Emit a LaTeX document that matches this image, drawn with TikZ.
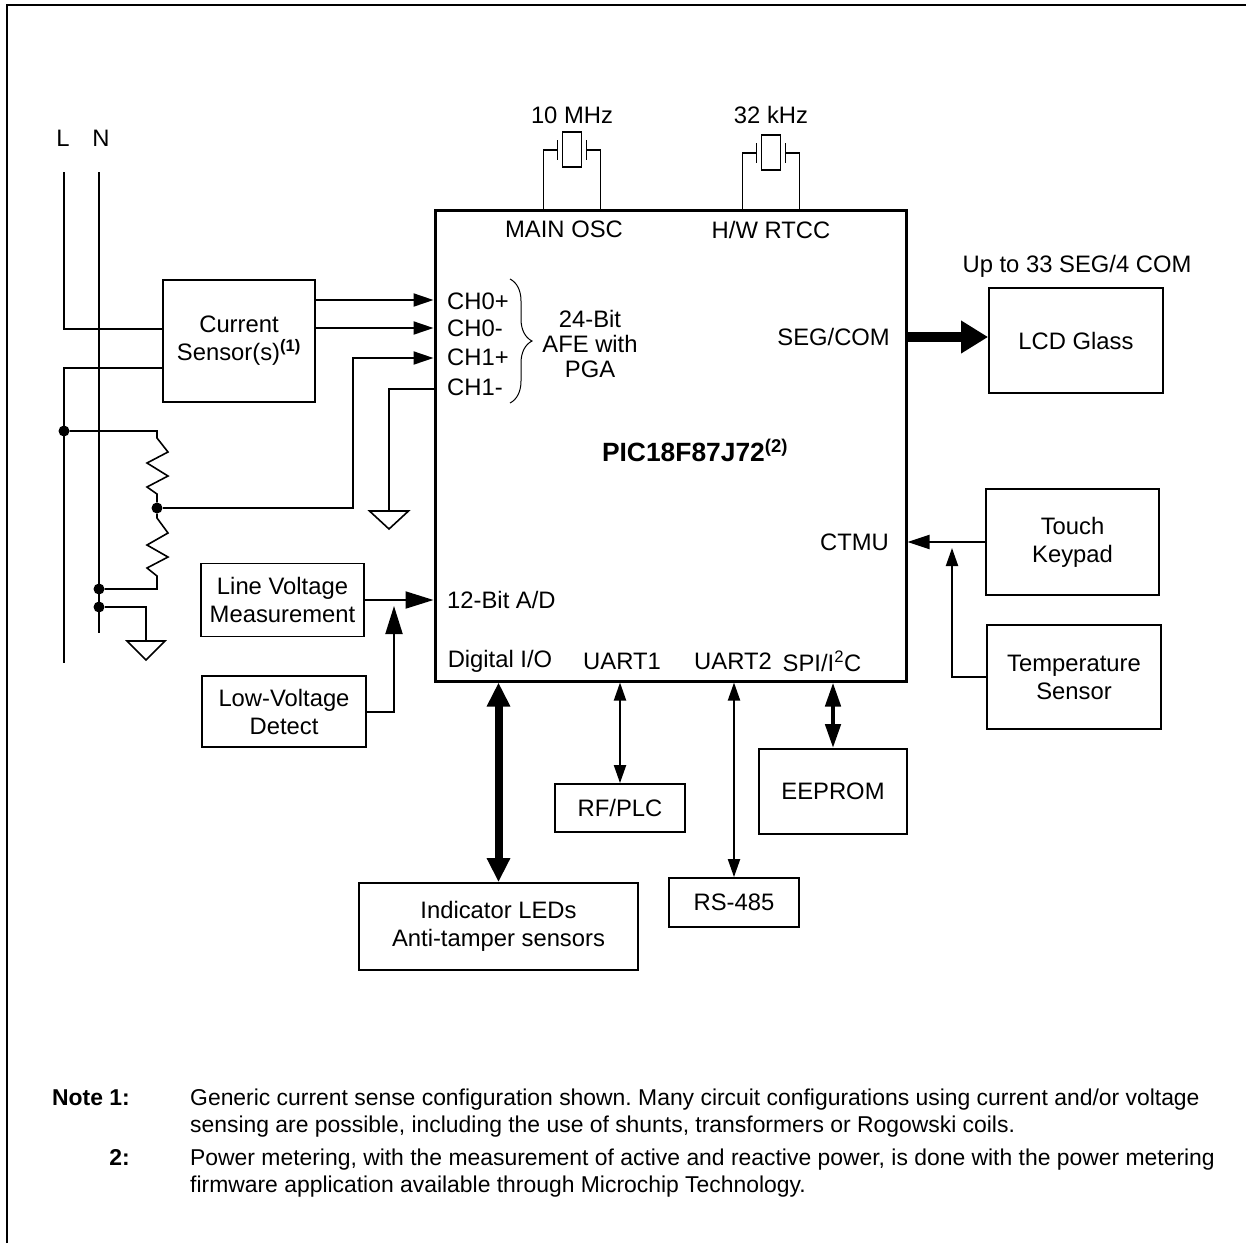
\documentclass[tikz,border=0pt]{standalone}
\usepackage{fontspec}
\setmainfont{Liberation Sans}
\usetikzlibrary{arrows.meta,positioning,calc,decorations.pathreplacing}
\frenchspacing

\begin{document}
\begin{tikzpicture}[
    x=1pt, y=-1pt,
    every node/.style={font=\fontsize{23.8}{28}\selectfont, inner sep=0pt},
    block/.style={draw, line width=1.8pt, align=center},
    notehead/.style={font=\bfseries\fontsize{22.9}{27}\selectfont},
    notetext/.style={font=\fontsize{22.9}{27}\selectfont},
    wire/.style={line width=2pt},
    thin wire/.style={line width=1.6pt},
    mains/.style={line width=2.8pt},
    junction/.style={circle, fill, minimum size=11pt},
    inarrow/.style={wire, -{Triangle[length=20pt, width=13pt]}},
    bigin/.style={wire, -{Triangle[length=28pt, width=17pt]}},
    midin/.style={wire, -{Triangle[length=22pt, width=14pt]}},
    smallin/.style={wire, -{Triangle[length=18pt, width=12pt]}},
    bus/.style={wire, {Triangle[length=18pt, width=12pt]}-{Triangle[length=18pt, width=12pt]}}
]
    \useasboundingbox (0,0) rectangle (1246,1243);
    % Frame
    \draw[line width=2.2pt] (7,1243) -- (7,5) -- (1246,5);

    % Blocks
    \node[block, line width=3pt, minimum width=471pt, minimum height=471pt] (chip) at (670.5,445.5) {};
    \node[block, minimum width=152pt, minimum height=122pt] (cs) at (239,341) {Current\\Sensor(s)\textsuperscript{\textbf{(1)}}};
    \node[block, minimum width=163pt, minimum height=73pt] (lvm) at (282.5,600) {Line Voltage\\Measurement};
    \node[block, minimum width=164pt, minimum height=71pt] (lvd) at (284,711.5) {Low-Voltage\\Detect};
    \node[block, minimum width=174pt, minimum height=105pt] (lcd) at (1076,340.5) {LCD Glass};
    \node[block, minimum width=173pt, minimum height=106pt] (touch) at (1072.5,542) {Touch\\Keypad};
    \node[block, minimum width=174pt, minimum height=104pt] (temp) at (1074,677) {Temperature\\Sensor};
    \node[block, minimum width=279pt, minimum height=87pt] (ind) at (498.5,926.5) {Indicator LEDs\\Anti-tamper sensors};
    \node[block, minimum width=130pt, minimum height=48pt] (rf) at (620,808) {RF/PLC};
    \node[block, minimum width=130pt, minimum height=49pt] (rs) at (734,902.5) {RS-485};
    \node[block, minimum width=148pt, minimum height=85pt] (ee) at (833,791.5) {EEPROM};
    \node (lcdnote) at (1077,266) {Up to 33 SEG/4 COM};

    % Chip labels
    \foreach \lab/\yy in {CH0+/301, CH0-/328, CH1+/357, CH1-/387}
        \node[anchor=west] at (447,\yy) {\lab};
    \draw[line width=1pt, decorate, decoration={brace, amplitude=22pt}] (510,279) -- (510,403);
    \node[align=center, font=\fontsize{23.8}{25}\selectfont] (afe) at (590,344) {24-Bit\\AFE with\\PGA};
    \node (osclab) at (564,229) {MAIN OSC};
    \node (rtcclab) at (771,230) {H/W RTCC};
    \node[font=\bfseries\fontsize{26.4}{30}\selectfont] (name) at (695,450) {PIC18F87J72\textsuperscript{(2)}};
    \node[anchor=east] (seglab) at (890,337) {SEG/COM};
    \node[anchor=east] (ctmulab) at (889,542) {CTMU};
    \node[anchor=west] (adclab) at (447,600) {12-Bit A/D};
    \node (diolab) at (500,661) {Digital I/O};
    \node (u1lab) at (622,661) {UART1};
    \node (u2lab) at (733,661) {UART2};
    \node (spilab) at (822,661) {SPI/I\textsuperscript{2}C};

    % Crystals
    \foreach \cx/\cy/\freq in {572/150/10 MHz, 771/153/32 kHz} {
        \draw[thin wire] (\cx-28.5,210) |- (\cx-14.5,\cy);
        \draw[thin wire] (\cx-14.5,\cy-10) -- (\cx-14.5,\cy+10);
        \draw[thin wire] (\cx-9.5,\cy-18) rectangle (\cx+9.5,\cy+17);
        \draw[thin wire] (\cx+14.5,\cy-10) -- (\cx+14.5,\cy+10);
        \draw[thin wire] (\cx+14.5,\cy) -| (\cx+28.5,210);
        \node at (\cx,115) {\freq};
    }

    % Mains
    \node (lL) at (63,138) {L};
    \node (lN) at (101,138) {N};
    \coordinate (Ltop) at (64,172);
    \coordinate (Ntop) at (99,172);
    \coordinate (Lbot) at (64,663);
    \coordinate (Nbot) at (99,633);
    \draw[mains] (Ltop) |- (cs.west |- 0,329);
    \draw[mains] (cs.west |- 0,368) -| (Lbot);
    \draw[mains] (Ntop) -- (Nbot);

    % Voltage divider
    \node[junction] (j1) at (64,431) {};
    \node[junction] (j2) at (157,508) {};
    \node[junction] (j3) at (99,589) {};
    \node[junction] (j4) at (99,607) {};
    \draw[thin wire] (j1) -- (157,431) -- (157,438) -- (168,452) -- (147,463) -- (168,476) -- (147,487) -- (157,494) -- (j2);
    \draw[thin wire] (j2) -- (157,518) -- (168,533) -- (147,545) -- (168,557) -- (147,568) -- (157,576) |- (j3);
    \coordinate (g2) at (146,641);
    \draw[thin wire] (j4) -| (g2);
    \draw[thin wire] (g2) ++(-19,0) -- ++(38,0) -- ++(-19,19) -- cycle;

    % AFE inputs
    \coordinate (ch1p) at (chip.west |- 0,358);
    \coordinate (ch1m) at (chip.west |- 0,389);
    \draw[inarrow] (cs.east |- 0,300) -- (chip.west |- 0,300);
    \draw[inarrow] (cs.east |- 0,328) -- (chip.west |- 0,328);
    \draw[inarrow] (j2) -| ([xshift=-81pt]ch1p) -- (ch1p);
    \coordinate (g1) at (389,511);
    \draw[wire] (ch1m) -| (g1);
    \draw[thin wire] (g1) ++(-19.5,0) -- ++(39,0) -- ++(-19.5,18) -- cycle;

    % A/D inputs
    \draw[bigin] (lvm.east) -- (lvm.east -| chip.west);
    \draw[bigin] (lvd.east) -| (394,606);

    % Right side
    \draw[line width=10pt, -{Triangle[length=27pt, width=31pt]}] (chip.east |- 0,337) -- (lcd.west |- 0,337);
    \draw[midin] (touch.west) -- (touch.west -| chip.east);
    \draw[smallin] (temp.west) -| (952,548);

    % Bottom side
    \draw[line width=8pt, {Triangle[length=24pt, width=22pt]}-{Triangle[length=24pt, width=22pt]}] (ind.north |- chip.south) -- (ind.north);
    \draw[bus] (rf.north |- chip.south) -- (rf.north);
    \draw[bus] (rs.north |- chip.south) -- (rs.north);
    \draw[line width=4.5pt, {Triangle[length=24pt, width=15pt]}-{Triangle[length=24pt, width=15pt]}] (ee.north |- chip.south) -- (ee.north);

    % Notes
    \node[notehead, anchor=base east] (n1) at (130,1105) {Note 1:};
    \node[notetext, anchor=base west] at (190,1105) {Generic current sense configuration shown. Many circuit configurations using current and/or voltage};
    \node[notetext, anchor=base west] at (190,1132) {sensing are possible, including the use of shunts, transformers or Rogowski coils.};
    \node[notehead, anchor=base east] (n2) at (130,1165) {2:};
    \node[notetext, anchor=base west] at (190,1165) {Power metering, with the measurement of active and reactive power, is done with the power metering};
    \node[notetext, anchor=base west] at (190,1192) {firmware application available through Microchip Technology.};
\end{tikzpicture}
\end{document}
